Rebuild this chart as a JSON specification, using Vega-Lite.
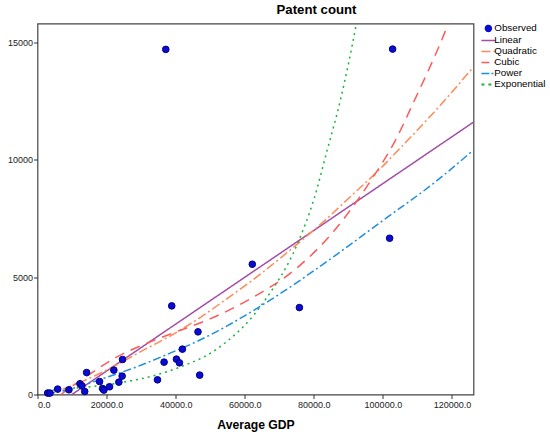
{
  "$schema": "https://vega.github.io/schema/vega-lite/v6.json",
  "width": 436,
  "height": 371,
  "autosize": "none",
  "padding": {"left": 37.5, "top": 23.5, "right": 76.5, "bottom": 44.5},
  "background": "white",
  "title": {
    "text": "Patent count",
    "anchor": "middle",
    "dx": 61,
    "offset": 6,
    "font": "Liberation Sans",
    "fontSize": 13.2,
    "fontWeight": "bold",
    "color": "black"
  },
  "datasets": {
    "observed": [
      {"series": "Observed", "gdp": 37140, "value": 14697},
      {"series": "Observed", "gdp": 102826, "value": 14710},
      {"series": "Observed", "gdp": 62190, "value": 5548},
      {"series": "Observed", "gdp": 101960, "value": 6655},
      {"series": "Observed", "gdp": 75830, "value": 3702},
      {"series": "Observed", "gdp": 38870, "value": 3774},
      {"series": "Observed", "gdp": 46470, "value": 2668},
      {"series": "Observed", "gdp": 41960, "value": 1932},
      {"series": "Observed", "gdp": 36650, "value": 1378},
      {"series": "Observed", "gdp": 40230, "value": 1506},
      {"series": "Observed", "gdp": 41095, "value": 1349},
      {"series": "Observed", "gdp": 34740, "value": 625},
      {"series": "Observed", "gdp": 46960, "value": 825},
      {"series": "Observed", "gdp": 24620, "value": 1490},
      {"series": "Observed", "gdp": 22110, "value": 1038},
      {"series": "Observed", "gdp": 24510, "value": 783},
      {"series": "Observed", "gdp": 14220, "value": 936},
      {"series": "Observed", "gdp": 17970, "value": 553},
      {"series": "Observed", "gdp": 20860, "value": 328},
      {"series": "Observed", "gdp": 18840, "value": 255},
      {"series": "Observed", "gdp": 19220, "value": 187},
      {"series": "Observed", "gdp": 5840, "value": 230},
      {"series": "Observed", "gdp": 9100, "value": 200},
      {"series": "Observed", "gdp": 2950, "value": 60},
      {"series": "Observed", "gdp": 3610, "value": 60},
      {"series": "Observed", "gdp": 12280, "value": 455},
      {"series": "Observed", "gdp": 12860, "value": 370},
      {"series": "Observed", "gdp": 13670, "value": 128},
      {"series": "Observed", "gdp": 23560, "value": 527}
    ],
    "fits": [
      {"series": "Linear", "gdp": 2660, "value": -730},
      {"series": "Linear", "gdp": 126240, "value": 11600},
      {"series": "Quadratic", "gdp": 2660, "value": -20},
      {"series": "Quadratic", "gdp": 12370, "value": 520},
      {"series": "Quadratic", "gdp": 23930, "value": 1340},
      {"series": "Quadratic", "gdp": 30690, "value": 1890},
      {"series": "Quadratic", "gdp": 38380, "value": 2490},
      {"series": "Quadratic", "gdp": 46100, "value": 3180},
      {"series": "Quadratic", "gdp": 54480, "value": 4040},
      {"series": "Quadratic", "gdp": 61700, "value": 4810},
      {"series": "Quadratic", "gdp": 76150, "value": 6520},
      {"series": "Quadratic", "gdp": 83870, "value": 7500},
      {"series": "Quadratic", "gdp": 91560, "value": 8560},
      {"series": "Quadratic", "gdp": 98320, "value": 9480},
      {"series": "Quadratic", "gdp": 105050, "value": 10500},
      {"series": "Quadratic", "gdp": 114680, "value": 12000},
      {"series": "Quadratic", "gdp": 126240, "value": 13950},
      {"series": "Cubic", "gdp": 2660, "value": -560},
      {"series": "Cubic", "gdp": 7660, "value": 100},
      {"series": "Cubic", "gdp": 12860, "value": 640},
      {"series": "Cubic", "gdp": 15260, "value": 880},
      {"series": "Cubic", "gdp": 22980, "value": 1600},
      {"series": "Cubic", "gdp": 31650, "value": 2180},
      {"series": "Cubic", "gdp": 40320, "value": 2680},
      {"series": "Cubic", "gdp": 49940, "value": 3220},
      {"series": "Cubic", "gdp": 61700, "value": 4080},
      {"series": "Cubic", "gdp": 75200, "value": 5400},
      {"series": "Cubic", "gdp": 85770, "value": 6950},
      {"series": "Cubic", "gdp": 92540, "value": 8250},
      {"series": "Cubic", "gdp": 97340, "value": 9300},
      {"series": "Cubic", "gdp": 103120, "value": 10680},
      {"series": "Cubic", "gdp": 108900, "value": 12450},
      {"series": "Cubic", "gdp": 118550, "value": 15650},
      {"series": "Cubic", "gdp": 122000, "value": 17000},
      {"series": "Power", "gdp": 2660, "value": 35},
      {"series": "Power", "gdp": 5840, "value": 110},
      {"series": "Power", "gdp": 9480, "value": 230},
      {"series": "Power", "gdp": 19130, "value": 690},
      {"series": "Power", "gdp": 28760, "value": 1180},
      {"series": "Power", "gdp": 38380, "value": 1762},
      {"series": "Power", "gdp": 46100, "value": 2255},
      {"series": "Power", "gdp": 51880, "value": 2681},
      {"series": "Power", "gdp": 67480, "value": 4030},
      {"series": "Power", "gdp": 85770, "value": 5872},
      {"series": "Power", "gdp": 100230, "value": 7434},
      {"series": "Power", "gdp": 114680, "value": 8995},
      {"series": "Power", "gdp": 126240, "value": 10412},
      {"series": "Exponential", "gdp": 2660, "value": 170},
      {"series": "Exponential", "gdp": 9480, "value": 250},
      {"series": "Exponential", "gdp": 23930, "value": 500},
      {"series": "Exponential", "gdp": 33580, "value": 800},
      {"series": "Exponential", "gdp": 41270, "value": 1170},
      {"series": "Exponential", "gdp": 51880, "value": 1930},
      {"series": "Exponential", "gdp": 66040, "value": 4050},
      {"series": "Exponential", "gdp": 75200, "value": 6400},
      {"series": "Exponential", "gdp": 80000, "value": 8300},
      {"series": "Exponential", "gdp": 83870, "value": 10400},
      {"series": "Exponential", "gdp": 87710, "value": 12540},
      {"series": "Exponential", "gdp": 92340, "value": 15800},
      {"series": "Exponential", "gdp": 95000, "value": 18000}
    ]
  },
  "encoding": {
    "x": {
      "field": "gdp",
      "type": "quantitative",
      "title": "Average GDP",
      "scale": {"domain": [0, 126240], "nice": false, "zero": false},
      "axis": {"values": [0, 20000, 40000, 60000, 80000, 100000, 120000], "format": ".1f"}
    },
    "y": {
      "field": "value",
      "type": "quantitative",
      "title": null,
      "scale": {"domain": [0, 15800], "nice": false, "zero": false},
      "axis": {"values": [0, 5000, 10000, 15000], "format": "d", "labelPadding": 1}
    },
    "color": {
      "field": "series",
      "type": "nominal",
      "title": null,
      "scale": {
        "domain": ["Observed", "Linear", "Quadratic", "Cubic", "Power", "Exponential"],
        "range": ["#0c0cd0", "#a24ea8", "#ff8a58", "#ff5a5a", "#1f8fe0", "#18b43a"]
      },
      "legend": {
        "orient": "right",
        "offset": 10,
        "padding": 0,
        "rowPadding": 0,
        "symbolSize": 144,
        "labelOffset": 1,
        "labelFont": "Liberation Sans",
        "labelFontSize": 9.8,
        "labelColor": "black",
        "encode": {
          "symbols": {
            "update": {
              "shape": {"signal": "datum.value === 'Observed' ? 'circle' : 'stroke'"},
              "size": {"signal": "datum.value === 'Observed' ? 36 : 196"},
              "fill": {"signal": "datum.value === 'Observed' ? '#0c0cd0' : 'transparent'"},
              "stroke": {"signal": "datum.value === 'Observed' ? '#0c0cd0' : datum.value === 'Linear' ? '#a24ea8' : datum.value === 'Quadratic' ? '#ff8a58' : datum.value === 'Cubic' ? '#ff5a5a' : datum.value === 'Power' ? '#1f8fe0' : '#18b43a'"},
              "strokeDash": {"signal": "datum.value === 'Quadratic' ? [9, 3, 2, 3] : datum.value === 'Cubic' ? [8, 5] : datum.value === 'Power' ? [8, 2, 2, 2] : datum.value === 'Exponential' ? [3, 4] : [1, 0]"},
              "strokeWidth": {"signal": "datum.value === 'Exponential' ? 2 : 1.5"},
              "opacity": {"value": 1}
            }
          }
        }
      }
    }
  },
  "layer": [
    {
      "data": {"name": "fits"},
      "mark": {"type": "line", "clip": true, "interpolate": "monotone", "strokeWidth": 1.5},
      "encoding": {
        "detail": {"field": "series", "type": "nominal"},
        "strokeDash": {
          "field": "series",
          "type": "nominal",
          "legend": null,
          "scale": {
            "domain": ["Linear", "Quadratic", "Cubic", "Power", "Exponential"],
            "range": [[1, 0], [9, 3, 2, 3], [10, 7], [8, 3, 2, 3], [2, 4]]
          }
        },
        "strokeWidth": {
          "field": "series",
          "type": "nominal",
          "legend": null,
          "scale": {
            "domain": ["Linear", "Quadratic", "Cubic", "Power", "Exponential"],
            "range": [1.5, 1.5, 1.5, 1.5, 2.2]
          }
        }
      }
    },
    {
      "data": {"name": "observed"},
      "mark": {"type": "point", "filled": true, "size": 44, "opacity": 1, "stroke": "#00008a", "strokeWidth": 1}
    }
  ],
  "config": {
    "view": {"stroke": "#444444", "strokeWidth": 1.2},
    "axis": {
      "domain": false,
      "grid": false,
      "ticks": true,
      "tickSize": 4,
      "tickColor": "#333333",
      "labelFont": "Liberation Sans",
      "labelFontSize": 9,
      "labelColor": "#222222",
      "labelPadding": 2,
      "titleFont": "Liberation Sans",
      "titleFontSize": 12.2,
      "titleFontWeight": "bold",
      "titleColor": "black",
      "titlePadding": 9
    }
  }
}
